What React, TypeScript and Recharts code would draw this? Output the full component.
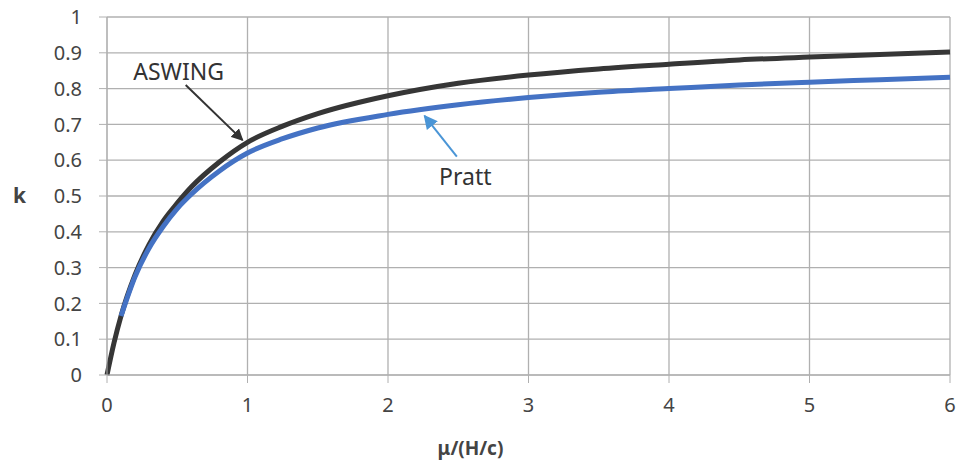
import {CartesianGrid, Line, LineChart, ReferenceLine, XAxis, YAxis, Label, ReferenceDot} from "recharts";

// mu/(H/c) sample points
const mu = [0, 0.05, 0.1, 0.2, 0.3, 0.4, 0.5, 0.6, 0.8, 1, 1.25, 1.5, 2, 2.5, 3, 3.5, 4, 4.5, 5, 5.5, 6];
const aswing = [0, 0.09, 0.165, 0.28, 0.365, 0.43, 0.48, 0.525, 0.595, 0.65, 0.695, 0.73, 0.78, 0.815, 0.838, 0.855, 0.868, 0.88, 0.888, 0.895, 0.902];
const pratt = [null, null, 0.165, 0.275, 0.355, 0.415, 0.465, 0.505, 0.57, 0.62, 0.66, 0.69, 0.728, 0.755, 0.775, 0.79, 0.8, 0.81, 0.818, 0.825, 0.832];

const xTicks = [0, 1, 2, 3, 4, 5, 6];
const yTicks = [0, 0.1, 0.2, 0.3, 0.4, 0.5, 0.6, 0.7, 0.8, 0.9, 1];

const data = mu.map((m, i) => ({mu: m, aswing: aswing[i], pratt: pratt[i]}));

const font = "'Noto Sans', 'Open Sans', sans-serif";
const tickStyle = {fontSize: 20, fill: "#444", fontFamily: font};
const noteStyle = {fontSize: 23, fill: "#333", fontFamily: font};
const gridColor = "#b0b0b0";

const App = () => {
    return (
        <div style={{position: "absolute", left: 0, top: 0, width: 963, height: 465, background: "#fff"}}>
            <svg width={0} height={0} style={{position: "absolute"}}>
                <defs>
                    <marker id="headBlack" viewBox="0 0 10 10" refX="9" refY="5" markerWidth="6" markerHeight="6" orient="auto">
                        <path d="M0,0 L10,5 L0,10 z" fill="#333"/>
                    </marker>
                    <marker id="headBlue" viewBox="0 0 10 10" refX="9" refY="5" markerWidth="7" markerHeight="7" orient="auto">
                        <path d="M0,0 L10,5 L0,10 z" fill="#4a95d6"/>
                    </marker>
                </defs>
            </svg>
            <LineChart
                width={963}
                height={465}
                data={data}
                margin={{top: 17, right: 13, left: 10, bottom: 10}}
            >
                <CartesianGrid stroke={gridColor} strokeWidth={1.3}/>
                <XAxis
                    dataKey="mu"
                    type="number"
                    domain={[0, 6]}
                    ticks={xTicks}
                    height={80}
                    tick={tickStyle}
                    tickSize={8}
                    tickMargin={15}
                    stroke={gridColor}
                    tickLine={{stroke: gridColor}}
                >
                    <Label value="μ/(H/c)" position="insideBottom" offset={0} dx={-58}
                           style={{fontSize: 19, fontWeight: "bold", fill: "#444", fontFamily: font}}/>
                </XAxis>
                <YAxis
                    type="number"
                    domain={[0, 1]}
                    ticks={yTicks}
                    width={97}
                    tick={tickStyle}
                    tickSize={8}
                    tickMargin={17}
                    stroke={gridColor}
                    tickLine={{stroke: gridColor}}
                >
                    <Label value="k" position="insideLeft" offset={3}
                           style={{fontSize: 21, fontWeight: "bold", fill: "#444", fontFamily: font}}/>
                </YAxis>
                <Line
                    type="monotone"
                    dataKey="aswing"
                    stroke="#363636"
                    strokeWidth={5}
                    dot={false}
                    isAnimationActive={false}
                />
                <Line
                    type="monotone"
                    dataKey="pratt"
                    stroke="#4472c4"
                    strokeWidth={5}
                    dot={false}
                    connectNulls={false}
                    isAnimationActive={false}
                />
                <ReferenceLine
                    segment={[{x: 0.56, y: 0.81}, {x: 0.965, y: 0.656}]}
                    stroke="#333"
                    strokeWidth={2}
                    markerEnd="url(#headBlack)"
                />
                <ReferenceLine
                    segment={[{x: 2.49, y: 0.61}, {x: 2.26, y: 0.724}]}
                    stroke="#4a95d6"
                    strokeWidth={2}
                    markerEnd="url(#headBlue)"
                />
                <ReferenceDot x={0.51} y={0.846} r={0} fill="none" stroke="none"
                              label={{value: "ASWING", position: "center", style: noteStyle}}/>
                <ReferenceDot x={2.55} y={0.553} r={0} fill="none" stroke="none"
                              label={{value: "Pratt", position: "center", style: noteStyle}}/>
            </LineChart>
        </div>
    );
};

export default App;
